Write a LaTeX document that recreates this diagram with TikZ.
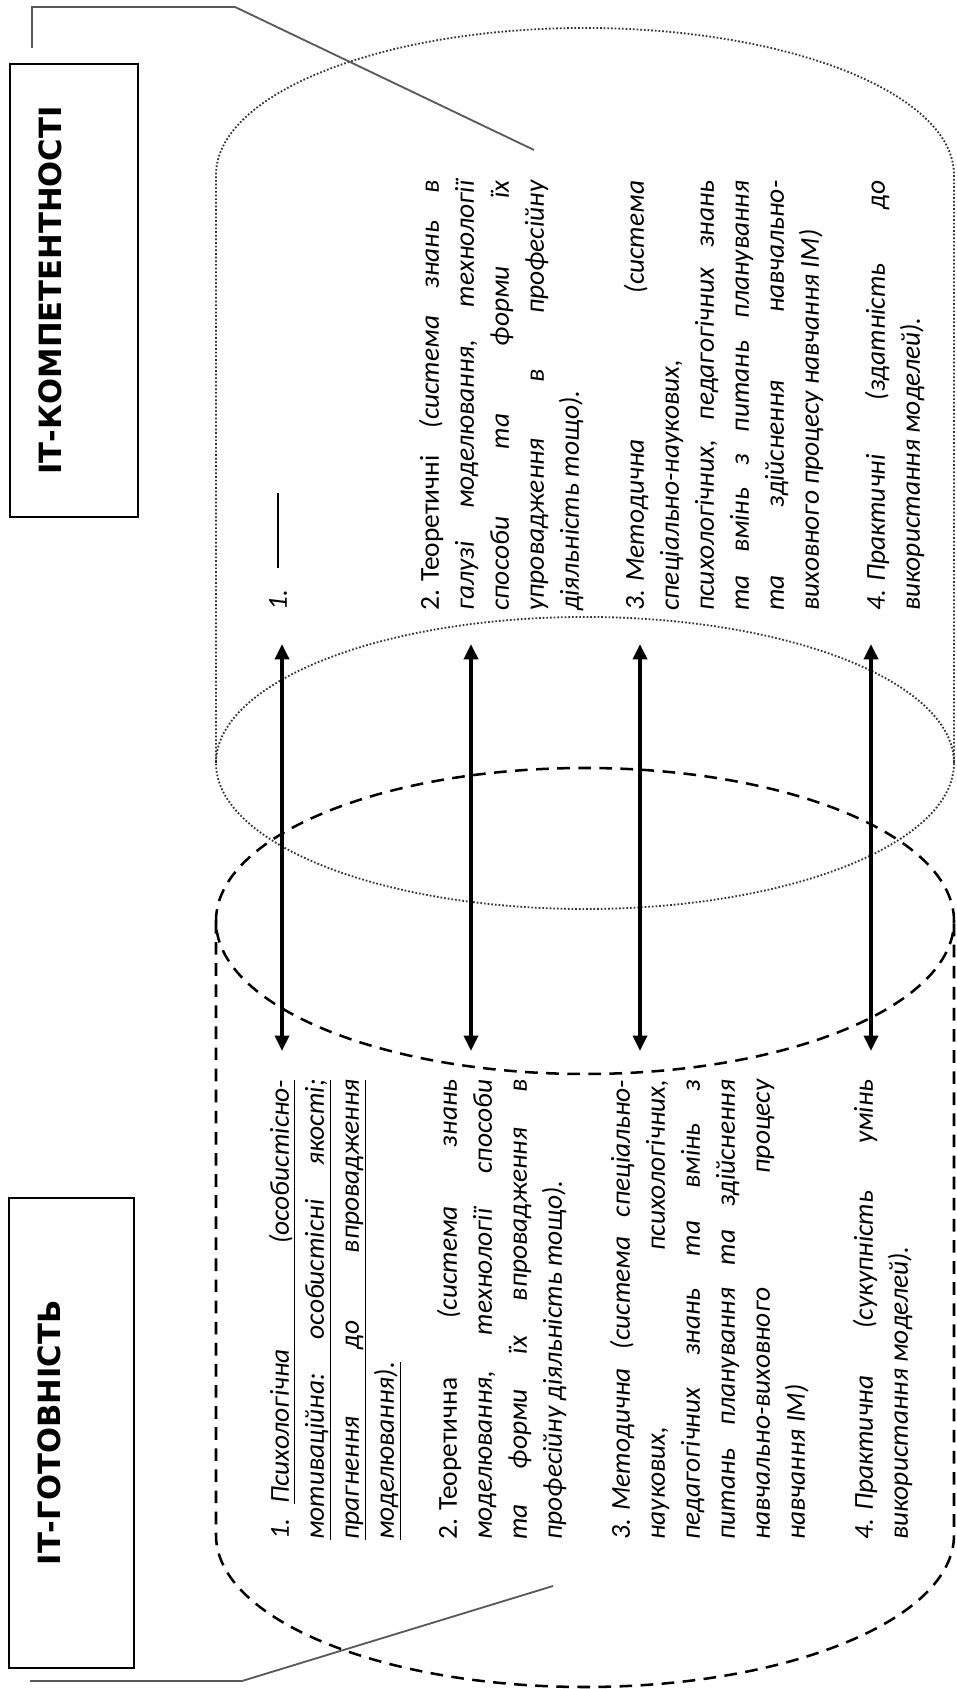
\documentclass[tikz,border=0pt]{standalone}
\usepackage{fontspec}
\setmainfont{Carlito}
\newfontfamily\headfont{DejaVu Sans}
\usetikzlibrary{arrows.meta}
\newcommand{\jl}[1]{\makebox[\hsize][s]{#1}}
\newcommand{\num}[1]{#1\hspace{0.3em}}
\newcommand{\bodysize}{\fontsize{19.5}{24.9}\selectfont\frenchspacing}
\newlength\leadw

\begin{document}
\begin{tikzpicture}[x=0.025cm, y=0.025cm,
    dotline/.style={black!80, line width=1.3pt, dash pattern=on 1.2pt off 1.4pt},
    dashline/.style={line width=1.8pt, dash pattern=on 9pt off 6pt},
    dbl/.style={{Triangle[length=11pt,width=10pt]}-{Triangle[length=11pt,width=10pt]}, line width=2.6pt},
    bracket/.style={black!65, line width=1.3pt},
    headbox/.style={draw, line width=1pt, rotate=90, inner sep=0pt, text height=1.3cm, text depth=1.9cm,
        font=\headfont\bfseries\fontsize{21.8}{25}\selectfont},
    txttop/.style={rotate=90, anchor=north west, inner sep=0pt, text width=10.75cm, align=flush left, font=\bodysize},
    txtbot/.style={txttop, text width=11.5cm}]
    \useasboundingbox (0,0) rectangle (956,1689);
    % IT-competences (dotted) and IT-readiness (dashed)
    \draw [dotline](216,926)--(216,1514) arc [start angle=180, end angle=0, x radius=369, y radius=147]--(954,926);
    \draw [dotline](585,926) ellipse [x radius=369, y radius=146];
    \draw [dashline](585,768) ellipse [x radius=369, y radius=153];
    \draw [dashline](216,768)--(216,154) arc [start angle=180, end angle=360, x radius=369, y radius=152]--(954,768);
    % titles
    \node [headbox, minimum width=11.325cm] (komp) at (74,1398.5) {ІТ-КОМПЕТЕНТНОСТІ};
    \node [headbox, minimum width=11.75cm, text depth=1.825cm] (got) at (71.5,256) {ІТ-ГОТОВНІСТЬ};
    \coordinate (kb) at (32,1641); \coordinate (ke) at (534,1539);
    \coordinate (gb) at (30,8); \coordinate (ge) at (553,103);
    \draw [bracket](kb)|-(235,1682)--(ke);
    \draw [bracket](gb)--(242,8)--(ge);
    % arrows
    \coordinate (up1) at (282,1045); \coordinate (dn1) at (282,638);
    \coordinate (up2) at (471,1045); \coordinate (dn2) at (471,638);
    \coordinate (up3) at (640,1045); \coordinate (dn3) at (640,638);
    \coordinate (up4) at (871,1045); \coordinate (dn4) at (871,638);
    \draw [dbl](dn1)--(up1);
    \draw [dbl](dn2)--(up2);
    \draw [dbl](dn3)--(up3);
    \draw [dbl](dn4)--(up4);
    % competences
    \node [txttop] (t1) at (262,1078) {\itshape\strut 1.\hspace{0.8em}\rule[0.3em]{1.875cm}{1.4pt}};
    \node [txttop] (t2) at (414,1078) {\strut\jl{\num{2.}Теоретичні \textit{(система знань в}}\\
        \itshape\jl{галузі моделювання, технології}\\
        \jl{способи та форми їх}\\
        \jl{упровадження в професійну}\\
        діяльність тощо).};
    \node [txttop] (t3) at (619,1078) {\itshape\strut\jl{\num{3.}Методична (система}\\
        спеціально-наукових,\\
        \jl{психологічних, педагогічних знань}\\
        \jl{та вмінь з питань планування}\\
        \jl{та здійснення навчально-}\\
        виховного процесу навчання ІМ)};
    \node [txttop] (t4) at (860,1078) {\itshape\strut\jl{\num{4.}Практичні (здатність до}\\
        використання моделей).};
    % readiness
    \node [txtbot] (g1) at (264,149) {\itshape\settowidth{\leadw}{1.\hspace{0.55em}}%
        \strut 1.\hspace{0.55em}\underline{\makebox[\dimexpr\hsize-\leadw\relax][s]{Психологічна (особистісно-}}\\
        \underline{\jl{мотиваційна: особистісні якості;}}\\
        \underline{\jl{прагнення до впровадження}}\\
        \underline{моделювання).}};
    \node [txtbot] (g2) at (432,149) {\strut\jl{\num{2.}Теоретична \textit{(система знань}}\\
        \itshape\jl{моделювання, технології способи}\\
        \jl{та форми їх впровадження в}\\
        професійну діяльність тощо).};
    \node [txtbot] (g3) at (605,149) {\itshape\strut\jl{\num{3.}Методична (система спеціально-}\\
        \jl{наукових, психологічних,}\\
        \jl{педагогічних знань та вмінь з}\\
        \jl{питань планування та здійснення}\\
        \jl{навчально-виховного процесу}\\
        навчання ІМ)};
    \node [txtbot] (g4) at (848,149) {\itshape\strut\jl{\num{4.}Практична (сукупність умінь}\\
        використання моделей).};
\end{tikzpicture}
\end{document}
